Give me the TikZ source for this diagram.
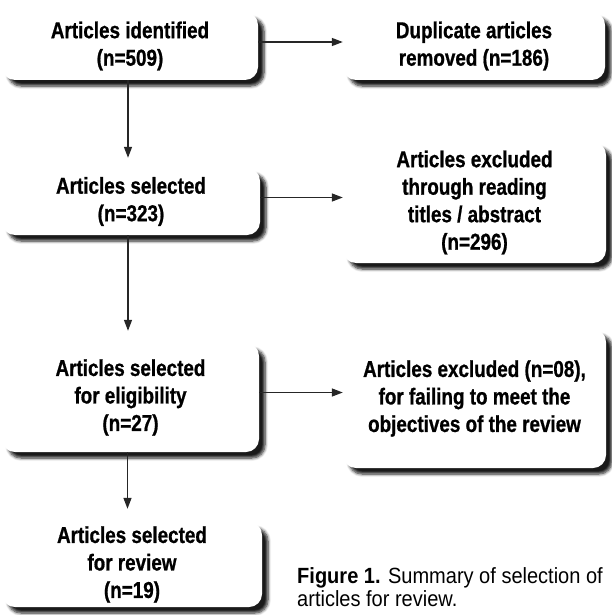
\documentclass[tikz,border=0pt]{standalone}
\usepackage{fontspec}
\setmainfont[FakeStretch=0.82, BoldFeatures={FakeBold=0.8}]{Liberation Sans}
\newfontfamily\capfont[FakeStretch=0.91]{Liberation Sans}
\usetikzlibrary{shadows.blur,arrows.meta}
\begin{document}
\begin{tikzpicture}[x=1pt,y=-1pt,
  box/.style={fill=white, rounded corners=13pt, align=center,
    font=\bfseries\fontsize{23}{27.5}\selectfont, inner sep=0pt,
    blur shadow={shadow xshift=6pt, shadow yshift=-6pt, shadow blur steps=6,
      shadow blur radius=3pt, shadow opacity=90}},
  arr/.style={draw=black!85, line width=1.4pt, -{Triangle[length=11pt,width=8pt]}},
  captext/.style={align=left, inner sep=0pt, font=\capfont\fontsize{22}{23.5}\selectfont}
]
\useasboundingbox (0,0) rectangle (611,615);
\node[box, minimum width=256pt, minimum height=68pt] (b1) at (130,46) {Articles identified\\(n=509)};
\node[box, minimum width=262pt, minimum height=68pt] (b2) at (474,46) {Duplicate articles\\removed (n=186)};
\node[box, minimum width=258pt, minimum height=67pt] (b3) at (131,201.5) {Articles selected\\(n=323)};
\node[box, minimum width=263pt, minimum height=121pt] (b4) at (474.5,202.5) {Articles excluded\\through reading\\titles / abstract\\(n=296)};
\node[box, minimum width=257pt, minimum height=109pt] (b5) at (130.5,397.5) {Articles selected\\for eligibility\\(n=27)};
\node[box, minimum width=263pt, minimum height=139pt] (b6) at (474.5,398.5) {Articles excluded (n=08),\\for failing to meet the\\objectives of the review};
\node[box, minimum width=260pt, minimum height=85pt] (b7) at (132,564.5) {Articles selected\\for review\\(n=19)};
\node[captext, anchor=west] (c) at (297,587) {\textbf{Figure 1.} Summary of selection of\\articles for review.};

\draw[arr] ([yshift=4pt]b1.east) -- ([yshift=4pt]b1.east -| b2.west);
\draw[arr] ([yshift=4pt]b3.east) -- ([yshift=4pt]b3.east -| b4.west);
\draw[arr] ([yshift=5pt]b5.east) -- ([yshift=5pt]b5.east -| b6.west);
\draw[arr, shorten >=10pt] ([xshift=-2pt]b1.south) -- ([xshift=-2pt]b1.south |- b3.north);
\draw[arr, shorten >=12pt] ([xshift=-3pt]b3.south) -- ([xshift=-3pt]b3.south |- b5.north);
\draw[arr, shorten >=13pt] ([xshift=-3pt]b5.south) -- ([xshift=-3pt]b5.south |- b7.north);
\end{tikzpicture}
\end{document}
